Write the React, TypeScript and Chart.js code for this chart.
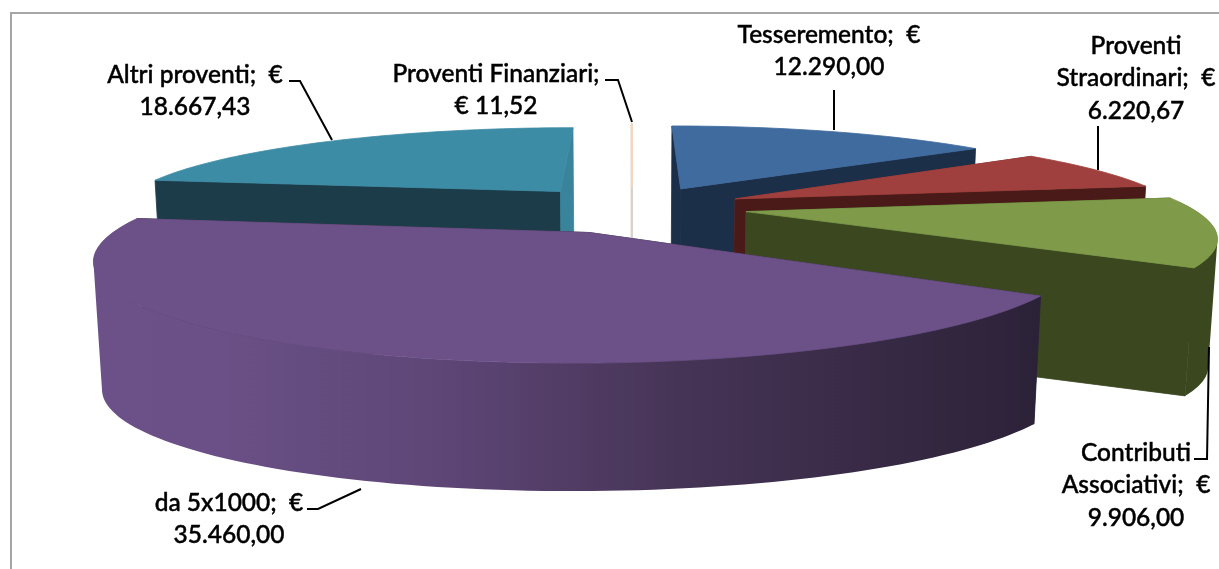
import React, { useEffect, useRef } from "react";
import { Chart, registerables } from "chart.js";

Chart.register(...registerables);

const categories = ["Tesseremento", "Proventi Straordinari", "Contributi Associativi", "da 5x1000", "Altri proventi", "Proventi Finanziari"];
const values = [12290.0, 6220.67, 9906.0, 35460.0, 18667.43, 11.52];
// explosion of each slice, percent of the radius
const explosion = [25, 25, 25, 30, 25, 25];
const topColors = ["#3f6b9e", "#9f403e", "#7f9b4a", "#6b5187", "#3d8ca6", "#f5d5bd"];
const startWallColors = ["#1c2f48", "#8a2e2a", "#3a471f", "#2e2438", "#1b3c48", "#d8d4cc"];
const endWallColors = ["#1c2f48", "#4a1a18", "#3a471f", "#2e2438", "#3a849b", "#d8d4cc"];
const outerWallColors = ["#1c2f48", "#4a1a18", "#3a471f", "", "#1b3c48", "#d8d4cc"];

const labelLines = [
  ["Tesseremento;  €", "12.290,00"],
  ["Proventi", "Straordinari;  €", "6.220,67"],
  ["Contributi", "Associativi;  €", "9.906,00"],
  ["da 5x1000;  €", "35.460,00"],
  ["Altri proventi;  €", "18.667,43"],
  ["Proventi Finanziari;", "€ 11,52"],
];
const labelPlaces = [
  { x: 829, y: 35 },
  { x: 1136, y: 46 },
  { x: 1136, y: 453 },
  { x: 229, y: 503 },
  { x: 195, y: 75 },
  { x: 496, y: 74 },
];
const leaders = [
  [[834, 90], [834, 130]],
  [[1098, 126], [1098, 170]],
  [[1209, 347], [1207, 459], [1194, 459]],
  [[307, 509], [318, 509], [361, 489]],
  [[289, 81], [300, 81], [332, 140]],
  [[605, 80], [618, 80], [632, 122]],
];

const VIEW = { x0: 630, y0: 207, rx: 445, ry: 85.3, persp: 0.235, depth: 128, bottomScale: 0.984 };
// sideways placement of each slice in the drawing, pixels
const sliceShift = [3, 5, 6, 11, 0, 2];

type P = [number, number];
const project = (u: number, v: number, dx: number): P => {
  const s = 1 / (1 - VIEW.persp * v);
  return [VIEW.x0 + dx + VIEW.rx * u * s, VIEW.y0 + VIEW.ry * v * s];
};
const drop = (p: P): P => [VIEW.x0 + (p[0] - VIEW.x0) * VIEW.bottomScale, p[1] + VIEW.depth];

const tracePoly = (ctx: CanvasRenderingContext2D, pts: P[]) => {
  pts.forEach((p, i) => (i ? ctx.lineTo(p[0], p[1]) : ctx.moveTo(p[0], p[1])));
  ctx.closePath();
};
const paint = (ctx: CanvasRenderingContext2D, color: any, lw: number) => {
  ctx.fillStyle = color;
  ctx.strokeStyle = color;
  ctx.lineWidth = lw;
  ctx.lineJoin = "round";
  ctx.fill();
  ctx.stroke();
};
const fillPoly = (ctx: CanvasRenderingContext2D, pts: P[], color: any, lw = 0.8) => {
  ctx.beginPath();
  tracePoly(ctx, pts);
  paint(ctx, color, lw);
};
const area = (pts: P[]) =>
  pts.reduce((sum, p, i) => {
    const q = pts[(i + 1) % pts.length];
    return sum + p[0] * q[1] - q[0] * p[1];
  }, 0);

const pie3d = {
  id: "pie3d",
  beforeDraw(chart: any) {
    const ctx = chart.ctx;
    ctx.save();
    ctx.fillStyle = "#ffffff";
    ctx.fillRect(0, 0, chart.width, chart.height);
    ctx.strokeStyle = "#a6a6a6";
    ctx.lineWidth = 2;
    ctx.beginPath();
    ctx.moveTo(11, chart.height);
    ctx.lineTo(11, 13);
    ctx.lineTo(chart.width, 13);
    ctx.stroke();
    ctx.restore();
  },
  beforeDatasetDraw(chart: any) {
    const ctx: CanvasRenderingContext2D = chart.ctx;
    const arcs = chart.getDatasetMeta(0).data;
    const order = [4, 5, 0, 1, 2, 3];
    ctx.save();
    for (const i of order) {
      const el = arcs[i];
      const { startAngle, endAngle } = el.getProps(["startAngle", "endAngle"], true);
      const d = el.options.offset / 100;
      const mid = (startAngle + endAngle) / 2;
      const ua = d * Math.cos(mid);
      const va = d * Math.sin(mid);
      const thin = endAngle - startAngle < 0.02;
      const lw = thin ? 2 : 0.8;
      const dx = sliceShift[i];
      const apex = project(ua, va, dx);
      const steps = Math.max(2, Math.ceil((endAngle - startAngle) * 40));
      const angles: number[] = [];
      for (let k = 0; k <= steps; k++) angles.push(startAngle + ((endAngle - startAngle) * k) / steps);
      const rim = angles.map((a) => project(ua + Math.cos(a), va + Math.sin(a), dx));
      // radial walls
      fillPoly(ctx, [apex, rim[0], drop(rim[0]), drop(apex)], startWallColors[i], lw);
      fillPoly(ctx, [apex, rim[steps], drop(rim[steps]), drop(apex)], endWallColors[i], lw);
      // outer wall, camera-facing part only: quads of one winding in a single path
      let wall: any = outerWallColors[i];
      if (!wall) {
        wall = ctx.createLinearGradient(100, 0, 1035, 0);
        wall.addColorStop(0, "#6b5187");
        wall.addColorStop(0.12, "#6a5086");
        wall.addColorStop(0.35, "#5f4778");
        wall.addColorStop(0.62, "#463456");
        wall.addColorStop(1, "#2c2238");
      }
      ctx.beginPath();
      let any = false;
      for (let k = 0; k < steps; k++) {
        if (Math.sin(angles[k]) < -0.1 && Math.sin(angles[k + 1]) < -0.1) continue;
        const quad: P[] = [rim[k], rim[k + 1], drop(rim[k + 1]), drop(rim[k])];
        tracePoly(ctx, area(quad) < 0 ? quad.reverse() : quad);
        any = true;
      }
      if (any) {
        ctx.fillStyle = wall;
        ctx.fill("nonzero");
      }
      // top face
      fillPoly(ctx, [apex, ...rim], topColors[i], lw);
    }
    ctx.restore();
    return false;
  },
  afterDatasetsDraw(chart: any) {
    const ctx: CanvasRenderingContext2D = chart.ctx;
    ctx.save();
    ctx.strokeStyle = "#000000";
    ctx.lineWidth = 2;
    ctx.lineJoin = "miter";
    leaders.forEach((line) => {
      ctx.beginPath();
      line.forEach((p, i) => (i ? ctx.lineTo(p[0], p[1]) : ctx.moveTo(p[0], p[1])));
      ctx.stroke();
    });
    ctx.fillStyle = "#000000";
    ctx.strokeStyle = "#000000";
    ctx.lineWidth = 0.45;
    ctx.font = "500 24.5px Lato, 'Open Sans', sans-serif";
    ctx.textAlign = "center";
    ctx.textBaseline = "middle";
    labelLines.forEach((lines, i) => {
      lines.forEach((t, j) => {
        ctx.fillText(t, labelPlaces[i].x, labelPlaces[i].y + j * 32.5);
        ctx.strokeText(t, labelPlaces[i].x, labelPlaces[i].y + j * 32.5);
      });
    });
    ctx.restore();
  },
};

export default function App() {
  const ref = useRef<HTMLCanvasElement>(null);
  useEffect(() => {
    document.body.style.margin = "0";
    document.body.style.overflow = "hidden";
    const chart = new Chart(ref.current as HTMLCanvasElement, {
      type: "pie",
      data: {
        labels: categories,
        datasets: [{ data: values, offset: explosion, backgroundColor: topColors, borderWidth: 0 }],
      },
      options: {
        responsive: false,
        animation: false,
        rotation: 0,
        plugins: { legend: { display: false }, tooltip: { enabled: false } },
      },
      plugins: [pie3d],
    } as any);
    return () => chart.destroy();
  }, []);
  return (
    <canvas
      ref={ref}
      width={1219}
      height={569}
      style={{ position: "absolute", left: 0, top: 0, width: 1219, height: 569 }}
    />
  );
}
